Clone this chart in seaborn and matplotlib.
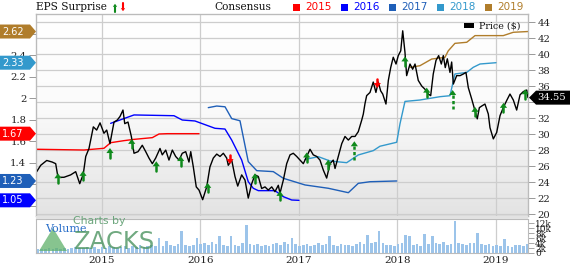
import numpy as np
import pandas as pd
import matplotlib
matplotlib.use("Agg")
import matplotlib.pyplot as plt
import seaborn as sns
from matplotlib.patches import Polygon, Rectangle
from matplotlib.lines import Line2D
from matplotlib.transforms import IdentityTransform
from matplotlib.colors import LinearSegmentedColormap

sns.set_style("white")
plt.rcParams['font.family'] = ['DejaVu Serif']

# ---------------- data ----------------
years = [2015, 2016, 2017, 2018, 2019]

price_t = [2014.340, 2014.381, 2014.442, 2014.498, 2014.533, 2014.556, 2014.617, 2014.685, 2014.736, 2014.777,
           2014.813, 2014.838, 2014.871, 2014.915, 2014.949, 2014.983, 2015.023, 2015.051, 2015.084, 2015.125,
           2015.158, 2015.186, 2015.216, 2015.234, 2015.267, 2015.301, 2015.328, 2015.369, 2015.412, 2015.447,
           2015.480, 2015.514, 2015.548, 2015.592, 2015.615, 2015.650, 2015.683, 2015.717, 2015.751, 2015.785,
           2015.818, 2015.853, 2015.886, 2015.904, 2015.930, 2015.960, 2015.988, 2016.025, 2016.066, 2016.099,
           2016.133, 2016.168, 2016.201, 2016.235, 2016.269, 2016.285, 2016.320, 2016.353, 2016.381, 2016.421,
           2016.455, 2016.488, 2016.523, 2016.556, 2016.590, 2016.624, 2016.658, 2016.691, 2016.726, 2016.759,
           2016.793, 2016.810, 2016.844, 2016.878, 2016.912, 2016.945, 2016.980, 2017.013, 2017.047, 2017.081,
           2017.115, 2017.148, 2017.183, 2017.216, 2017.250, 2017.284, 2017.318, 2017.351, 2017.369, 2017.402,
           2017.437, 2017.470, 2017.504, 2017.538, 2017.572, 2017.605, 2017.640, 2017.656, 2017.673, 2017.690,
           2017.724, 2017.757, 2017.784, 2017.808, 2017.832, 2017.853, 2017.886, 2017.910, 2017.934, 2017.960,
           2017.988, 2018.011, 2018.036, 2018.056, 2018.079, 2018.096, 2018.130, 2018.157, 2018.181, 2018.214,
           2018.249, 2018.282, 2018.316, 2018.340, 2018.366, 2018.394, 2018.421, 2018.448, 2018.468, 2018.488,
           2018.509, 2018.536, 2018.553, 2018.570, 2018.604, 2018.638, 2018.671, 2018.698, 2018.722, 2018.756,
           2018.790, 2018.813, 2018.834, 2018.858, 2018.891, 2018.925, 2018.942, 2018.976, 2019.010, 2019.044,
           2019.077, 2019.112, 2019.145, 2019.179, 2019.213, 2019.247, 2019.280, 2019.315, 2019.328]
price_v = [25.3, 26.1, 26.7, 26.5, 26.3, 24.6, 24.6, 24.9, 25.3, 23.8,
           25.0, 27.2, 28.2, 30.9, 30.5, 31.4, 30.1, 30.5, 28.8, 31.5,
           31.75, 32.2, 33.0, 31.3, 31.5, 29.7, 27.6, 27.8, 28.6, 27.8,
           27.0, 26.3, 27.0, 28.2, 27.4, 28.0, 26.75, 28.0, 27.2, 26.75,
           27.6, 27.8, 26.5, 27.8, 25.9, 23.4, 23.0, 21.8, 23.4, 25.9,
           27.0, 27.5, 27.2, 27.6, 27.0, 26.1, 26.75, 24.7, 23.5, 24.9,
           24.25, 22.0, 23.8, 24.9, 24.7, 23.2, 23.4, 23.0, 23.4, 22.8,
           23.6, 22.6, 24.25, 26.3, 27.4, 27.6, 27.2, 26.75, 26.3, 27.2,
           28.1, 27.4, 27.2, 26.75, 25.5, 24.5, 26.3, 26.75, 25.7, 27.2,
           28.8, 29.7, 29.25, 29.7, 29.7, 30.3, 31.75, 32.5, 33.8, 34.8,
           35.2, 36.5, 35.2, 36.5, 35.4, 35.0, 33.75, 36.7, 38.3, 39.6,
           38.75, 39.8, 40.4, 42.9, 40.2, 37.3, 38.75, 38.1, 38.75, 36.7,
           36.0, 35.6, 35.0, 34.8, 37.5, 39.2, 39.8, 38.75, 39.8, 38.3,
           39.4, 37.7, 39.0, 36.25, 37.3, 37.3, 37.5, 37.7, 35.8, 34.4,
           32.9, 31.9, 33.3, 33.5, 33.75, 32.5, 30.8, 29.4, 30.2, 32.3,
           33.3, 34.2, 35.0, 34.25, 33.0, 34.9, 35.3, 35.5, 34.55]

cons2015_t = [2014.333, 2014.820, 2015.023, 2015.091, 2015.226, 2015.328, 2015.514, 2015.582, 2015.666, 2015.988]
cons2015_v = [1.525, 1.518, 1.534, 1.586, 1.605, 1.617, 1.633, 1.667, 1.67, 1.67]
cons2016_t = [2015.091, 2015.328, 2015.734, 2015.818, 2015.947, 2016.150, 2016.252, 2016.320, 2016.421,
              2016.488, 2016.539, 2016.590, 2016.759, 2016.844, 2016.929, 2017.003]
cons2016_v = [1.766, 1.844, 1.837, 1.797, 1.788, 1.72, 1.713, 1.61, 1.425,
              1.223, 1.162, 1.14, 1.14, 1.084, 1.053, 1.05]
cons2017_t = [2016.082, 2016.168, 2016.252, 2016.320, 2016.404, 2016.488, 2016.574, 2016.742, 2016.844,
              2017.064, 2017.301, 2017.504, 2017.605, 2017.724, 2017.995]
cons2017_v = [1.912, 1.927, 1.92, 1.81, 1.79, 1.41, 1.326, 1.317, 1.255,
              1.193, 1.162, 1.121, 1.208, 1.223, 1.23]
cons2018_t = [2017.064, 2017.199, 2017.318, 2017.487, 2017.605, 2017.757, 2017.825, 2017.995, 2018.028,
              2018.079, 2018.231, 2018.435, 2018.536, 2018.586, 2018.706, 2018.772, 2018.841, 2019.003]
cons2018_v = [1.43, 1.456, 1.416, 1.40, 1.472, 1.512, 1.553, 1.59, 1.76,
              1.97, 1.983, 2.014, 2.023, 2.225, 2.24, 2.287, 2.318, 2.33]
cons2019_t = [2018.132, 2018.231, 2018.350, 2018.485, 2018.518, 2018.586, 2018.706, 2018.790, 2019.077,
              2019.179, 2019.328]
cons2019_v = [2.287, 2.302, 2.364, 2.38, 2.44, 2.51, 2.52, 2.582, 2.582, 2.613, 2.62]

final_consensus = [2.62, 2.33, 1.67, 1.23, 1.05]
final_labels = ["2.62", "2.33", "1.67", "1.23", "1.05"]
last_price = 34.55

# EPS surprise arrows (date, price at arrow tip, dashed stem)
beat_t = [2014.556, 2014.810, 2015.084, 2015.305, 2015.554, 2015.802, 2016.076, 2016.556, 2016.810,
          2017.081, 2017.300, 2017.565, 2018.079, 2018.300, 2018.563, 2018.790, 2019.079, 2019.299]
beat_p = [25.1, 25.4, 28.25, 29.4, 26.6, 27.25, 23.9, 25.1, 22.9,
          27.7, 26.8, 29.1, 39.7, 35.8, 35.5, 33.4, 33.9, 35.6]
beat_dashed = [False, False, False, False, False, False, False, False, False,
               False, False, True, False, False, True, False, False, False]
miss_t = [2016.302, 2017.798]
miss_p = [26.25, 35.75]

# volume, thousands (bi-weekly)
vol_k = [1.6, 1.8, 1.5, 2.0, 1.7, 1.9, 1.6, 2.2, 1.8, 2.0,
         2.4, 1.9, 2.1, 2.6, 2.0, 2.3, 1.8, 2.5, 2.2, 2.8,
         2.4, 2.0, 2.6, 3.0, 2.2, 2.7, 2.4, 3.2, 2.6, 3.0,
         3.4, 2.8, 6.0, 3.0, 5.0, 3.2, 2.9, 3.6, 8.8, 3.4,
         2.9, 3.3, 6.0, 3.8, 4.2, 3.1, 4.5, 3.6, 7.0, 3.2,
         2.8, 6.7, 3.4, 3.0, 4.0, 11.5, 3.6, 3.2, 3.8, 2.9,
         3.4, 3.0, 3.6, 4.1, 3.3, 4.4, 3.8, 6.0, 3.5, 2.9,
         3.2, 3.8, 2.8, 3.4, 4.0, 3.1, 3.7, 6.8, 3.3, 3.0,
         3.6, 3.1, 3.4, 2.9, 3.8, 4.3, 3.5, 7.4, 4.0, 4.6,
         8.8, 3.9, 3.4, 3.1, 2.8, 3.5, 3.9, 7.4, 7.0, 3.3,
         3.6, 3.0, 7.8, 3.5, 6.8, 4.2, 3.6, 4.4, 3.3, 3.8,
         13.0, 4.0, 3.6, 3.2, 4.2, 3.9, 8.0, 3.7, 3.1, 3.5,
         2.9, 3.3, 2.8, 5.5, 3.0, 2.6, 3.2, 3.4, 2.9, 3.6]
vol_ticks = [0, 2, 4, 6, 8, 10, 12]

series_colors = {2015: "#ff0000", 2016: "#0000ff", 2017: "#1f5fb8", 2018: "#3399cc", 2019: "#b07d2b"}

# ---------------- layout ----------------
W, H = 570, 264
fig = plt.figure(figsize=(W / 100, H / 100), dpi=100)
fig.patch.set_facecolor("white")
ID = IdentityTransform()

def fx(px):
    return px / W

def fy(py):
    return 1 - py / H

X0, X1 = 36, 528
PT, PB = 14, 215.7
VT, VB = 218.5, 253
xlim = (2014.333, 2019.328)
plim = (19.8, 45.0)
elim = (0.907, 2.783)

ax = fig.add_axes([fx(X0), fy(PB), fx(X1 - X0), (PB - PT) / H])
ax_eps = ax.twinx()
ax_p = ax.twinx()
axv = fig.add_axes([fx(X0), fy(VB), fx(X1 - X0), (VB - VT) / H])

for a in (ax, ax_eps, ax_p, axv):
    a.set_xlim(*xlim)
ax.set_ylim(*plim)
ax_p.set_ylim(*plim)
ax_eps.set_ylim(*elim)

# gradient background
grad = np.linspace(0, 1, 256).reshape(-1, 1)
cmap = LinearSegmentedColormap.from_list("bg", [(0, "#e3e3e3"), (0.55, "#fbfbfb"), (1, "#ffffff")])
ax.imshow(grad, aspect="auto", cmap=cmap, extent=[xlim[0], xlim[1], plim[1], plim[0]], zorder=0,
          interpolation="bilinear")
ax.set_xlim(*xlim)
ax.set_ylim(*plim)

grid_c = "#cdcdcd"
price_ticks = list(range(20, 46, 2))
for p in price_ticks:
    ax.axhline(p, color=grid_c, lw=0.9, zorder=1)
for y in years:
    ax.axvline(y, color=grid_c, lw=0.9, zorder=1)
    axv.axvline(y, color=grid_c, lw=0.9, zorder=0)

# ticks
ax.yaxis.tick_right()
ax_eps.yaxis.tick_left()
ax.set_yticks(price_ticks)
# the 34 label sits under the last-price tag
ax.set_yticklabels(["" if p == 34 else str(p) for p in price_ticks])
ax.set_xticks([])
ax.tick_params(axis="y", right=True, length=5, width=0.7, color="#999999", labelsize=7.2, pad=2,
               labelcolor="#222222")
eps_ticks = [1.0, 1.2, 1.4, 1.6, 1.8, 2.0, 2.2, 2.4, 2.6]
hidden_eps = [1.0, 1.2, 2.6]  # covered by consensus tags
ax_eps.set_yticks(eps_ticks)
ax_eps.set_yticklabels(["" if v in hidden_eps else f"{v:g}" for v in eps_ticks])
ax_eps.tick_params(axis="y", left=True, length=5, width=0.7, color="#999999", labelsize=7.2, pad=2,
                   labelcolor="#222222")
ax_p.set_yticks([])
for a in (ax_eps, ax_p):
    a.set_xticks([])
for a in (ax, ax_eps, ax_p, axv):
    for s in a.spines.values():
        s.set_color("#bbbbbb")
        s.set_linewidth(0.8)

# consensus lines
cons = pd.concat([
    pd.DataFrame({"t": cons2015_t, "eps": cons2015_v, "year": 2015}),
    pd.DataFrame({"t": cons2016_t, "eps": cons2016_v, "year": 2016}),
    pd.DataFrame({"t": cons2017_t, "eps": cons2017_v, "year": 2017}),
    pd.DataFrame({"t": cons2018_t, "eps": cons2018_v, "year": 2018}),
    pd.DataFrame({"t": cons2019_t, "eps": cons2019_v, "year": 2019}),
])
sns.lineplot(data=cons, x="t", y="eps", hue="year", palette=series_colors, ax=ax_eps,
             estimator=None, sort=False, legend=False, lw=1.0)
ax_eps.set_xlabel("")
ax_eps.set_ylabel("")

# price line
sns.lineplot(x=price_t, y=price_v, ax=ax_p, color="black", lw=1.0, estimator=None, sort=False, legend=False)
ax_p.set_xlabel("")
ax_p.set_ylabel("")
ax_p.set_xlim(*xlim)
ax_eps.set_xlim(*xlim)

# volume
vol_t = np.linspace(2014.35, 2019.318, len(vol_k))
step = vol_t[1] - vol_t[0]
axv.set_facecolor("white")
axv.bar(vol_t, vol_k, width=step * 0.7, color="#9cc4ea", edgecolor="none", zorder=2)
axv.set_ylim(0, 14.0)
axv.set_xlim(*xlim)
axv.yaxis.tick_right()
axv.set_yticks(vol_ticks)
axv.set_yticklabels(["0"] + [f"{v}k" for v in vol_ticks[1:]])
axv.tick_params(axis="y", right=True, length=4, width=0.6, color="#999999", labelsize=6.5, pad=1,
                labelcolor="#222222")
axv.set_xticks(years)
axv.set_xticklabels([str(y) for y in years])
axv.tick_params(axis="x", length=0, labelsize=7.5, pad=2.5, labelcolor="#222222")

# separator band between panels
fig.add_artist(Rectangle((fx(X0), fy(VT)), fx(X1 - X0), (VT - PB) / H, transform=fig.transFigure,
                         facecolor="#e2e2e2", edgecolor="none"))

fig.canvas.draw()

# EPS surprise arrows
GREEN = "#0f8a1c"
for t, p, d in zip(beat_t, beat_p, beat_dashed):
    dx, dy = ax_p.transData.transform((t, p))
    fig.add_artist(Polygon([(dx - 3.6, dy - 5), (dx + 3.6, dy - 5), (dx, dy)], closed=True,
                           transform=ID, facecolor=GREEN, edgecolor="none"))
    if d:
        fig.add_artist(Line2D([dx, dx], [dy - 5, dy - 19], transform=ID, color=GREEN, lw=1.8,
                              linestyle=(0, (1.3, 0.9))))
    else:
        fig.add_artist(Line2D([dx, dx], [dy - 4.5, dy - 9.5], transform=ID, color=GREEN, lw=1.8))
for t, p in zip(miss_t, miss_p):
    dx, dy = ax_p.transData.transform((t, p))
    fig.add_artist(Polygon([(dx - 3.6, dy + 5), (dx + 3.6, dy + 5), (dx, dy)], closed=True,
                           transform=ID, facecolor="#ff0000", edgecolor="none"))
    fig.add_artist(Line2D([dx, dx], [dy + 4.5, dy + 9.5], transform=ID, color="#ff0000", lw=1.8))

# left consensus labels
label_cols = [series_colors[2019], series_colors[2018], series_colors[2015], series_colors[2017],
              series_colors[2016]]
for v, lab, c in zip(final_consensus, final_labels, label_cols):
    _, dy = ax_eps.transData.transform((xlim[0], v))
    fig.add_artist(Polygon([(0, dy - 7), (30, dy - 7), (36, dy), (30, dy + 7), (0, dy + 7)],
                           transform=ID, facecolor=c, edgecolor="none", zorder=5))
    fig.text(13 / W, dy / H, lab, color="white", fontsize=7, ha="center", va="center",
             family="DejaVu Sans", zorder=6)

# right last price label
_, dy = ax_p.transData.transform((xlim[1], last_price))
fig.add_artist(Polygon([(529, dy), (536, dy - 7), (570, dy - 7), (570, dy + 7), (536, dy + 7)],
                       transform=ID, facecolor="black", edgecolor="none", zorder=5))
fig.text(552 / W, dy / H, f"{last_price:.2f}", color="white", fontsize=7.2, ha="center", va="center",
         zorder=6)

# header
fig.text(fx(36), fy(7.5), "EPS Surprise", fontsize=7.6, ha="left", va="center", color="#111111")
fig.add_artist(Polygon([(111.5, H - 7.5), (118.5, H - 7.5), (115, H - 2.5)], transform=ID, facecolor=GREEN))
fig.add_artist(Line2D([115, 115], [H - 7, H - 12], transform=ID, color=GREEN, lw=1.5))
fig.add_artist(Polygon([(119.5, H - 7.5), (126.5, H - 7.5), (123, H - 12.5)], transform=ID,
                       facecolor="#ff0000"))
fig.add_artist(Line2D([123, 123], [H - 8, H - 2.5], transform=ID, color="#ff0000", lw=1.5))
fig.text(fx(214), fy(7), "Consensus", fontsize=7.6, ha="left", va="center", color="#111111")
for i, y in enumerate(years):
    tx = 305 + 48 * i
    fig.add_artist(Rectangle((fx(tx - 12), fy(11)), 7 / W, 7 / H, transform=fig.transFigure,
                             facecolor=series_colors[y], edgecolor="none"))
    fig.text(fx(tx), fy(7.5), str(y), fontsize=7.5, ha="left", va="center", color=series_colors[y],
             family="DejaVu Sans")

# price legend
fig.add_artist(Rectangle((fx(464), fy(28)), 10 / W, 5 / H, transform=fig.transFigure,
                         facecolor="black", edgecolor="none"))
fig.text(fx(479), fy(25.5), "Price ($)", fontsize=6.8, ha="left", va="center", color="#111111")

# watermark
fig.add_artist(Polygon([(39, H - 251), (53, H - 228), (67, H - 251)], transform=ID,
                       facecolor="#5fb06a", edgecolor="none", alpha=0.75))
fig.text(fx(45), fy(229), "Volume", fontsize=8, color="#2a6fc9", ha="left", va="center")
fig.text(fx(73), fy(221.5), "Charts by", fontsize=7.8, color="#5e9e70", ha="left", va="center",
         family="DejaVu Sans", alpha=0.9)
fig.text(fx(74), fy(242), "ZACKS", fontsize=17.5, color="#4c9460", ha="left", va="center",
         family="DejaVu Sans", alpha=0.8)

fig.savefig("out.png", dpi=100)
